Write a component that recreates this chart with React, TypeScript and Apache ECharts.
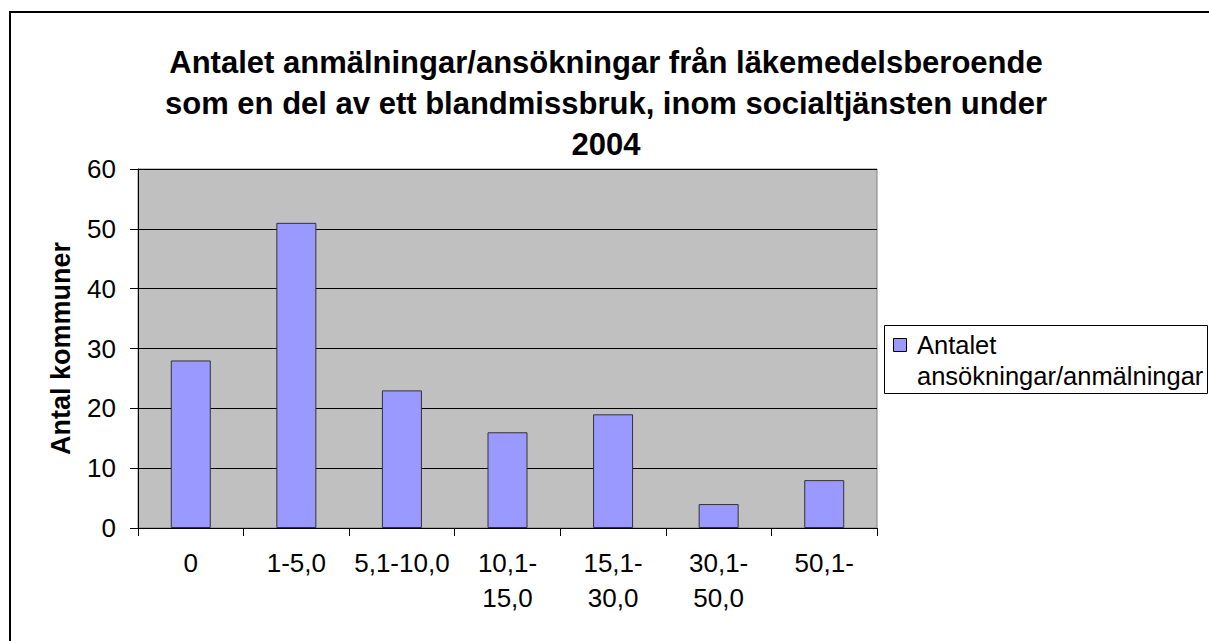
import React, { useEffect, useRef } from "react";
import * as echarts from "echarts";

const titleLines = [
  "Antalet anmälningar/ansökningar från läkemedelsberoende",
  "som en del av ett blandmissbruk, inom socialtjänsten under",
  "2004",
];
const categories = ["0", "1-5,0", "5,1-10,0", "10,1-\n15,0", "15,1-\n30,0", "30,1-\n50,0", "50,1-"];
const values = [28, 51, 23, 16, 19, 4, 8];
const yAxisName = "Antal kommuner";
const legendLines = ["Antalet", "ansökningar/anmälningar"];
const seriesName = "Antalet ansökningar/anmälningar";

const FONT = "'Liberation Sans', Arial, sans-serif";

export default function App() {
  const ref = useRef<HTMLDivElement>(null);
  useEffect(() => {
    if (!ref.current) return;
    const chart = echarts.init(ref.current, undefined, { renderer: "svg" });
    chart.setOption({
      animation: false,
      backgroundColor: "#ffffff",
      textStyle: { fontFamily: FONT },
      title: {
        text: titleLines.join("\n"),
        left: 606,
        top: 42,
        padding: 0,
        textAlign: "center",
        textStyle: {
          fontFamily: FONT,
          fontSize: 31,
          fontWeight: "bold",
          lineHeight: 41,
          color: "#000",
          align: "center",
        },
      },
      grid: {
        left: 138,
        top: 169,
        width: 739,
        height: 359,
        show: true,
        backgroundColor: "#C0C0C0",
        borderColor: "#808080",
        borderWidth: 1,
      },
      xAxis: {
        type: "category",
        data: categories,
        axisLine: { show: true, lineStyle: { color: "#000", width: 1 } },
        axisTick: { show: true, length: 8, interval: 0, lineStyle: { color: "#000" } },
        axisLabel: {
          interval: 0,
          margin: 17,
          fontSize: 26,
          lineHeight: 35,
          color: "#000",
          fontFamily: FONT,
        },
        splitLine: { show: false },
      },
      yAxis: {
        type: "value",
        min: 0,
        max: 60,
        interval: 10,
        name: yAxisName,
        nameLocation: "middle",
        nameGap: 64,
        nameRotate: 90,
        nameTextStyle: { fontFamily: FONT, fontSize: 27, fontWeight: "bold", color: "#000" },
        axisLine: { show: true, lineStyle: { color: "#000", width: 1 } },
        axisTick: { show: true, length: 8, lineStyle: { color: "#000" } },
        axisLabel: { margin: 22, fontSize: 26, color: "#000", fontFamily: FONT },
        splitLine: { show: true, lineStyle: { color: "#000", width: 1 } },
      },
      series: [
        {
          name: seriesName,
          type: "bar",
          data: values,
          barWidth: 40,
          itemStyle: { color: "#9999FF", borderColor: "#333333", borderWidth: 1 },
        },
      ],
      graphic: [
        {
          type: "rect",
          shape: { x: 10, y: 12, width: 1400, height: 800 },
          style: { fill: "none", stroke: "#000", lineWidth: 2 },
          silent: true,
          z: 100,
        },
        {
          type: "group",
          left: 884,
          top: 325,
          children: [
            {
              type: "rect",
              shape: { x: 0.5, y: 0.5, width: 323, height: 68 },
              style: { fill: "#fff", stroke: "#000", lineWidth: 1 },
            },
            {
              type: "rect",
              shape: { x: 9.5, y: 13.5, width: 13, height: 13 },
              style: { fill: "#9999FF", stroke: "#000", lineWidth: 1 },
            },
            {
              type: "text",
              x: 33,
              y: 4,
              style: {
                text: legendLines.join("\n"),
                fontFamily: FONT,
                fontSize: 25.5,
                lineHeight: 31,
                fill: "#000",
              },
            },
          ],
        },
      ],
    });
    return () => chart.dispose();
  }, []);
  return (
    <div
      ref={ref}
      style={{ position: "absolute", left: 0, top: 0, width: 1209, height: 641 }}
    />
  );
}
